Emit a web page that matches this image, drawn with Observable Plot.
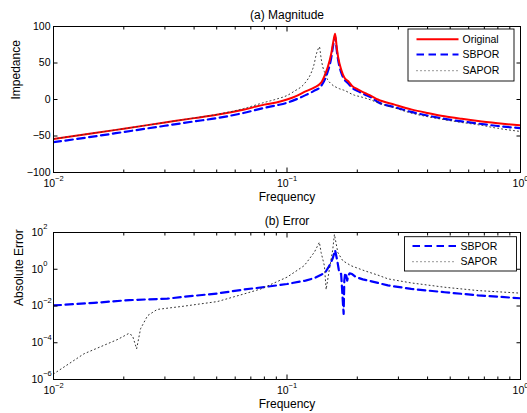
<!DOCTYPE html>
<html><head><meta charset="utf-8">
<script src="https://cdn.jsdelivr.net/npm/d3@7"></script>
<script src="https://cdn.jsdelivr.net/npm/@observablehq/plot@0.6"></script>
<style>
html,body{margin:0;padding:0;background:#fff;}
#chart svg{display:block;}
</style></head><body><div id="chart"></div>
<script>
// ---------- data ----------
const origFreq = [0.01,0.015,0.02,0.03,0.04,0.05,0.065,0.08,0.09,0.1,0.11,0.12,0.13,0.14,0.145,0.1494,0.1545,0.158,0.1607,0.1635,0.1656,0.171,0.176,0.183,0.19,0.201,0.215,0.229,0.245,0.289,0.34,0.4,0.473,0.56,0.658,0.8,1.0];
const origImp  = [-54,-46,-40,-31.5,-25.5,-21,-14,-7,-4,0,5,11,16,23,33,44,62,80,90,70,58,40,30,25,18.5,14,9,5,0,-7,-13.5,-18.5,-23,-26.5,-29.5,-32.5,-35.5];

const sbporFreq = [0.01,0.015,0.02,0.03,0.04,0.05,0.065,0.08,0.09,0.1,0.11,0.12,0.13,0.14,0.145,0.1494,0.1545,0.158,0.1607,0.1635,0.1656,0.171,0.176,0.183,0.19,0.201,0.215,0.229,0.245,0.289,0.34,0.4,0.473,0.56,0.658,0.8,1.0];
const sbporImp  = [-58.5,-50.5,-44.5,-36,-30,-25.5,-18.5,-11.5,-8,-4.5,0.5,6,11.5,18.5,27,38,56,76,86,66,54,36,27.5,22,16,11.5,7,3,-3.5,-10.5,-17,-22,-26.5,-30,-33,-36.3,-39.3];

const saporFreq = [0.01,0.02,0.03,0.04,0.05,0.065,0.08,0.09,0.1,0.1074,0.1186,0.1267,0.1295,0.131,0.133,0.1355,0.1376,0.1399,0.1425,0.1446,0.1494,0.1545,0.1656,0.176,0.194,0.208,0.229,0.245,0.289,0.34,0.4,0.473,0.56,0.658,0.8,1.0];
const saporImp  = [-54,-40,-31.5,-25.3,-20.5,-12.5,-4,0.5,5.5,11.3,21.5,36,44,50,60,68,72,57,44,38,27,21.5,15.5,12.5,6,3.5,-0.7,-4.5,-11.5,-18.6,-23.5,-27.7,-31.5,-34.6,-39.5,-43.8];

const errSbporFreq = [0.01,0.0149,0.0211,0.0307,0.0362,0.0503,0.0656,0.08,0.1,0.12,0.131,0.14,0.146,0.152,0.157,0.1607,0.164,0.1665,0.168,0.1705,0.172,0.1735,0.1748,0.176,0.1775,0.1795,0.181,0.183,0.1855,0.19,0.197,0.2113,0.23,0.2451,0.2705,0.3405,0.4733,0.6585,1.0];
const errSbpor     = [0.0107,0.0148,0.0209,0.0251,0.0316,0.0479,0.0794,0.107,0.158,0.24,0.331,0.5,0.69,1.58,3.98,10.7,3.16,1.0,0.60,0.56,0.1,0.0158,0.0037,0.25,0.63,0.45,0.24,0.45,0.60,0.55,0.38,0.28,0.22,0.18,0.132,0.085,0.056,0.038,0.0263];

const errSaporFreq = [0.01,0.0135,0.0188,0.021,0.0218,0.0227,0.0236,0.0253,0.0278,0.0362,0.0503,0.0656,0.0773,0.1,0.1186,0.131,0.1376,0.14,0.1446,0.1471,0.1519,0.1571,0.1596,0.1651,0.1734,0.1882,0.2147,0.2451,0.2705,0.3405,0.4733,0.6585,1.0];
const errSapor     = [0.000002,0.000025,0.00015,0.00032,0.00024,0.000047,0.00058,0.003,0.0065,0.0098,0.0174,0.0457,0.085,0.37,1.58,8.5,29.5,8.1,1.55,0.079,1.0,12.3,79,8.1,2.9,1.55,0.83,0.48,0.30,0.18,0.105,0.069,0.05];

const majorX = [0.01, 0.1, 1];
const minorX = [0.02,0.03,0.04,0.05,0.06,0.07,0.08,0.09,0.2,0.3,0.4,0.5,0.6,0.7,0.8,0.9];
const magTicks = [-100, -50, 0, 50, 100];
const errTicks = [1e-6, 1e-4, 1e-2, 1, 100];
const legendTop = ["Original", "SBPOR", "SAPOR"];
const legendBottom = ["SBPOR", "SAPOR"];

// ---------- helpers ----------
const FONT = "'Liberation Sans', Arial, Helvetica, sans-serif";
const W = 527;
const rows = (fs, vs) => fs.map((f, i) => ({f, v: vs[i]}));
const expLabel = d => "10^" + String(Math.round(Math.log10(d))).replace("-", "\u2212");
const blank = () => "";
const STY = {
  orig: {stroke: "#ff0000", strokeWidth: 2},
  sbpor: {stroke: "#0000ff", strokeWidth: 2.2, strokeDasharray: "7.5,4.5"},
  sapor: {stroke: "#333", strokeWidth: 1, strokeDasharray: "1,3"}
};

function superscripts(svg) {
  const ns = "http://www.w3.org/2000/svg";
  svg.querySelectorAll("text").forEach(t => {
    const m = /^10\^(.+)$/.exec(t.textContent);
    if (!m) return;
    t.textContent = "";
    const a = document.createElementNS(ns, "tspan"); a.textContent = "10"; t.appendChild(a);
    const b = document.createElementNS(ns, "tspan"); b.textContent = m[1];
    b.setAttribute("dy", "-6.5"); b.setAttribute("font-size", "7.5"); t.appendChild(b);
  });
}

function legend(svg, box, items, styles, lineX, textX, ys) {
  const g = d3.select(svg).append("g").attr("font-family", FONT).attr("font-size", 10.5).attr("text-anchor", "start");
  g.append("rect").attr("x", box[0]).attr("y", box[1]).attr("width", box[2]).attr("height", box[3])
    .attr("fill", "#fff").attr("stroke", "#000").attr("stroke-width", 0.9);
  items.forEach((name, i) => {
    const s = styles[i];
    g.append("line").attr("x1", lineX[0]).attr("x2", lineX[1]).attr("y1", ys[i]).attr("y2", ys[i])
      .attr("stroke", s.stroke).attr("stroke-width", s.strokeWidth)
      .attr("stroke-dasharray", s.strokeDasharray || null);
    g.append("text").attr("x", textX).attr("y", ys[i] + 3.7).attr("fill", "#000").attr("text-anchor", "start").text(name);
  });
}

function axes(yTicks, yLabelOpts) {
  return [
    Plot.frame({stroke: "#000"}),
    Plot.axisX({anchor: "bottom", ticks: majorX, tickSize: 0, tickPadding: 7.5, tickFormat: expLabel, label: null}),
    Plot.axisX({anchor: "bottom", ticks: majorX, tickSize: -4.5, tickFormat: blank, label: null}),
    Plot.axisX({anchor: "top", ticks: majorX, tickSize: -4.5, tickFormat: blank, label: null}),
    Plot.axisX({anchor: "bottom", ticks: minorX, tickSize: -2.5, tickFormat: blank, label: null}),
    Plot.axisX({anchor: "top", ticks: minorX, tickSize: -2.5, tickFormat: blank, label: null}),
    Plot.axisY({anchor: "left", ticks: yTicks, tickSize: 0, label: null, ...yLabelOpts}),
    Plot.axisY({anchor: "left", ticks: yTicks, tickSize: -4.5, tickFormat: blank, label: null}),
    Plot.axisY({anchor: "right", ticks: yTicks, tickSize: -4.5, tickFormat: blank, label: null})
  ];
}

const baseStyle = {fontFamily: FONT, fontSize: "10.5px", background: "#fff", color: "#000", overflow: "visible"};

// ---------- (a) Magnitude ----------
const magPlot = Plot.plot({
  width: W, height: 206,
  marginLeft: 53, marginRight: 7, marginTop: 26, marginBottom: 34,
  style: baseStyle,
  x: {type: "log", domain: [0.01, 1]},
  y: {domain: [-100, 100]},
  marks: [
    Plot.line(rows(sbporFreq, sbporImp), {x: "f", y: "v", ...STY.sbpor, curve: "monotone-x", clip: true}),
    Plot.line(rows(origFreq, origImp), {x: "f", y: "v", ...STY.orig, curve: "monotone-x", clip: true}),
    Plot.line(rows(saporFreq, saporImp), {x: "f", y: "v", ...STY.sapor, curve: "monotone-x", clip: true}),
    ...axes(magTicks, {tickPadding: 3}),
    Plot.text(["(a) Magnitude"], {frameAnchor: "top", dy: -8, lineAnchor: "bottom", fontSize: 12}),
    Plot.text(["Frequency"], {frameAnchor: "bottom", dy: 28.5, lineAnchor: "bottom", fontSize: 12}),
    Plot.text(["Impedance"], {frameAnchor: "left", dx: -34, rotate: -90, lineAnchor: "bottom", fontSize: 12})
  ]
});
superscripts(magPlot);
legend(magPlot, [408, 29, 106, 52], legendTop, [STY.orig, STY.sbpor, STY.sapor], [416.5, 458.5], 462.5, [39.3, 54.5, 70.7]);

// ---------- (b) Error ----------
const errPlot = Plot.plot({
  width: W, height: 207,
  marginLeft: 53, marginRight: 7, marginTop: 26, marginBottom: 34,
  style: baseStyle,
  x: {type: "log", domain: [0.01, 1]},
  y: {type: "log", domain: [1e-6, 100]},
  marks: [
    Plot.line(rows(errSbporFreq, errSbpor), {x: "f", y: "v", ...STY.sbpor, clip: true}),
    Plot.line(rows(errSaporFreq, errSapor), {x: "f", y: "v", ...STY.sapor, clip: true}),
    ...axes(errTicks, {tickPadding: 0, textAnchor: "start", dx: -22, tickFormat: expLabel}),
    Plot.text(["(b) Error"], {frameAnchor: "top", dy: -8, lineAnchor: "bottom", fontSize: 12}),
    Plot.text(["Frequency"], {frameAnchor: "bottom", dy: 28.5, lineAnchor: "bottom", fontSize: 12}),
    Plot.text(["Absolute Error"], {frameAnchor: "left", dx: -31, rotate: -90, lineAnchor: "bottom", fontSize: 12})
  ]
});
superscripts(errPlot);
legend(errPlot, [404.5, 30.7, 112, 34.3], legendBottom, [STY.sbpor, STY.sapor], [412.5, 456.5], 460.5, [40, 55.7]);

const chart = document.getElementById("chart");
chart.appendChild(magPlot);
chart.appendChild(errPlot);
</script>
</body></html>
